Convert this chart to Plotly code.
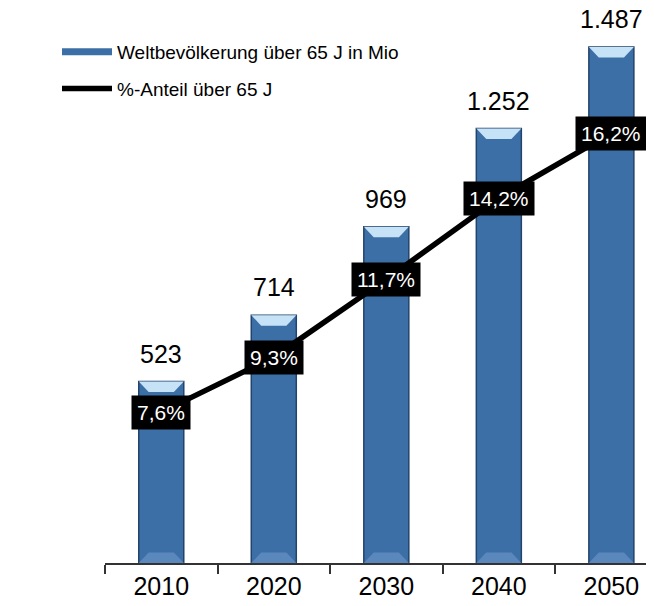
import plotly.graph_objects as go

years = ["2010", "2020", "2030", "2040", "2050"]
population = [523, 714, 969, 1252, 1487]
share = [7.6, 9.3, 11.7, 14.2, 16.2]
bar_name = "Weltbevölkerung über 65 J in Mio"
line_name = "%-Anteil über 65 J"

FONT = "Liberation Sans, Arial, sans-serif"
BAR = "#3D6FA7"
BAR_EDGE = "#22436B"
CAP = "#C6E2F7"
BW = 0.40
W, H = 654, 606
T, B = 22, 51

def de_num(v):
    return f"{v:,}".replace(",", ".")

def de_pct(v):
    return f"{v:.1f}".replace(".", ",") + "%"

fig = go.Figure()

fig.add_trace(go.Bar(
    x=years, y=population, width=BW,
    marker=dict(color=BAR, line=dict(color=BAR_EDGE, width=1.5)),
    showlegend=False, name=bar_name,
))

# legend proxy for the bar series (drawn as a thick blue line, as in the original)
fig.add_trace(go.Scatter(
    x=[None], y=[None], mode="lines", name=bar_name,
    line=dict(color=BAR, width=7), legendgroup="a",
))

fig.add_trace(go.Scatter(
    x=years, y=share, mode="lines", name=line_name, yaxis="y2",
    line=dict(color="black", width=5.5), legendgroup="b",
))

# light bevel caps on top and bottom of each bar
cap_h = 30
shapes = []
for i, v in enumerate(population):
    x0, x1 = i - BW / 2, i + BW / 2
    ins = BW * 0.22
    shapes.append(dict(
        type="path", xref="x", yref="y",
        path=f"M {x0} {v} L {x1} {v} L {x1 - ins} {v - cap_h} L {x0 + ins} {v - cap_h} Z",
        fillcolor=CAP, line=dict(width=0), layer="above",
    ))
    shapes.append(dict(
        type="path", xref="x", yref="y",
        path=f"M {x0} 0 L {x1} 0 L {x1 - ins} {cap_h} L {x0 + ins} {cap_h} Z",
        fillcolor="#5A88BD", line=dict(width=0), layer="above",
    ))

annotations = []
for i, v in enumerate(population):
    annotations.append(dict(
        x=i, y=v, xref="x", yref="y", text=de_num(v), showarrow=False,
        yanchor="bottom", yshift=12,
        font=dict(size=25, color="black", family=FONT),
    ))
for i, p in enumerate(share):
    annotations.append(dict(
        x=i, y=p, xref="x", yref="y2", text=de_pct(p), showarrow=False,
        font=dict(size=21, color="white", family=FONT),
        bgcolor="black", borderpad=5,
    ))

fig.update_layout(
    width=W, height=H,
    margin=dict(l=0, r=0, t=T, b=B),
    paper_bgcolor="white", plot_bgcolor="white",
    font=dict(family=FONT, color="black"),
    shapes=shapes, annotations=annotations,
    xaxis=dict(
        type="category", range=[-0.5, 4.45], domain=[97 / W, 1],
        showline=True, linecolor="#333333", linewidth=1.5,
        ticks="outside", ticklen=9, tickcolor="#333333", tickwidth=1.5,
        tickson="boundaries", showgrid=False,
        tickfont=dict(size=25, color="black", family=FONT),
    ),
    yaxis=dict(range=[0, 1536], visible=False, showgrid=False, zeroline=False),
    yaxis2=dict(range=[2.95, 19.38], overlaying="y", visible=False,
                showgrid=False, zeroline=False),
    legend=dict(
        x=49 / W, y=1 - (25 - T) / (H - T - B),
        xanchor="left", yanchor="top", itemwidth=50,
        font=dict(size=19, color="black", family=FONT),
        tracegroupgap=9, bgcolor="rgba(0,0,0,0)",
    ),
    showlegend=True,
)

fig.write_html("out.html")
